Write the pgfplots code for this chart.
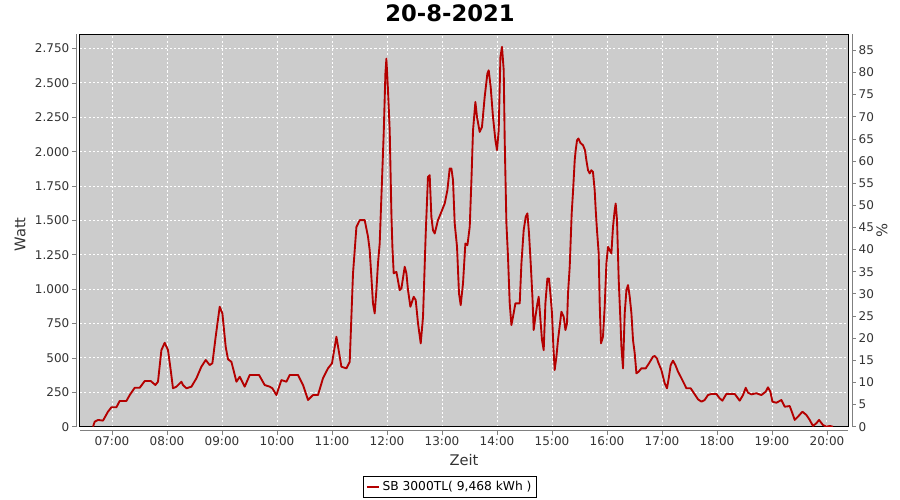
\documentclass[border=0pt]{standalone}
\usepackage{fontspec}
\setmainfont{DejaVu Sans}
\usepackage{pgfplots}
\pgfplotsset{compat=1.18}
\definecolor{plotbg}{RGB}{204,204,204}
\definecolor{axgray}{RGB}{128,128,128}
\definecolor{linered}{RGB}{180,0,0}
\pgfplotsset{
  base/.style={
    scale only axis, width=576pt, height=294.3pt,
    xmin=6.418, xmax=20.382,
    /pgf/number format/assume math mode=true,
    tick label style={font=\fontsize{9}{10}\selectfont, text=black!80},
    major tick length=0pt,
  }
}
\begin{document}
\begin{tikzpicture}
\path[use as bounding box] (-60pt,-55pt) rectangle (615pt,320pt);
\begin{axis}[base,
  ymin=0, ymax=2854,
  axis background/.style={fill=plotbg},
  axis line style={black, line width=0.75pt},
  ytick={0,250,...,2750},
  xtick={7,...,20},
  xticklabels={07:00,08:00,09:00,10:00,11:00,12:00,13:00,14:00,15:00,16:00,17:00,18:00,19:00,20:00},
  yticklabel style={xshift=-4.5pt},
  xticklabel style={yshift=-4pt},
  scaled y ticks=false,
  y tick label style={/pgf/number format/.cd, fixed, precision=0, 1000 sep={.}},
  grid=major,
  major grid style={white, line width=0.75pt, dash pattern=on 1.6pt off 1.6pt},
  ytick pos=left, xtick pos=bottom,
  xlabel={Zeit}, ylabel={Watt},
  label style={font=\fontsize{11}{12}\selectfont, text=black!80},
  xlabel style={at={(axis description cs:0.5,-0.084)}, anchor=center},
  ylabel style={at={(axis description cs:-0.078,0.49)}, anchor=center},
  title={\textbf{20-8-2021}},
  every axis title/.style={at={(0.4818,1.054)}, anchor=center, font=\fontsize{17}{18}\selectfont},
  legend style={at={(axis description cs:0.4818,-0.1527)}, anchor=center, draw=black, line width=0.6pt, fill=white, font=\fontsize{9.2}{10}\selectfont, inner sep=1.5pt, legend cell align=left},
  legend image code/.code={\draw[#1, line width=1.5pt] (0pt,0pt) -- (9pt,0pt);},
  after end axis/.code={
    \draw[axgray, line width=0.6pt] ([xshift=-3pt]rel axis cs:0,0) -- ([xshift=-3pt]rel axis cs:0,1);
    \foreach \v in {0,250,...,2750} {\draw[axgray, line width=0.6pt] ([xshift=-3pt]axis cs:6.418,\v) -- ++(-3pt,0);}
    \draw[axgray, line width=0.6pt] ([yshift=-3pt]rel axis cs:0,0) -- ([yshift=-3pt]rel axis cs:1,0);
    \foreach \h in {7,...,20} {\draw[axgray, line width=0.6pt] ([yshift=-3pt]axis cs:\h,0) -- ++(0,-3pt);}
  },
]
\addplot[linered, line width=1.4pt, line join=round] table {
6.655 0
6.685 36
6.745 49
6.836 44
6.927 109
6.989 141
7.080 141
7.140 187
7.262 187
7.322 230
7.413 283
7.504 283
7.595 332
7.704 332
7.789 303
7.836 327
7.898 557
7.958 610
8.018 557
8.067 412
8.109 279
8.171 291
8.262 327
8.291 303
8.353 279
8.444 291
8.535 352
8.625 436
8.704 485
8.776 448
8.825 461
8.885 654
8.958 872
9.007 824
9.067 581
9.109 490
9.171 472
9.262 327
9.322 363
9.413 291
9.504 376
9.673 376
9.776 303
9.867 291
9.916 279
9.989 230
10.080 339
10.171 327
10.231 376
10.382 376
10.473 303
10.564 194
10.655 230
10.745 230
10.836 352
10.927 424
11.000 461
11.080 654
11.171 436
11.262 424
11.322 472
11.382 1115
11.444 1453
11.504 1502
11.595 1502
11.655 1381
11.685 1284
11.716 1090
11.745 897
11.776 824
11.807 993
11.836 1187
11.867 1332
11.898 1671
11.940 2132
11.971 2568
11.989 2677
12.018 2447
12.049 2156
12.080 1551
12.098 1308
12.122 1115
12.171 1126
12.231 993
12.262 1005
12.322 1163
12.353 1115
12.382 993
12.425 872
12.485 945
12.522 921
12.564 751
12.613 606
12.655 799
12.704 1405
12.745 1817
12.776 1829
12.807 1526
12.836 1429
12.867 1405
12.927 1502
12.989 1562
13.049 1623
13.098 1720
13.140 1878
13.171 1878
13.200 1793
13.231 1478
13.273 1308
13.309 969
13.340 884
13.382 1042
13.425 1332
13.462 1320
13.504 1453
13.535 1793
13.564 2156
13.607 2362
13.636 2253
13.685 2144
13.727 2180
13.776 2398
13.825 2568
13.849 2592
13.885 2471
13.927 2253
13.971 2083
14.000 2011
14.031 2156
14.062 2689
14.091 2762
14.122 2592
14.140 2083
14.171 1478
14.200 1235
14.231 897
14.262 739
14.291 799
14.335 897
14.413 897
14.444 1187
14.485 1429
14.522 1526
14.553 1551
14.582 1405
14.613 1187
14.644 945
14.667 703
14.698 799
14.735 897
14.758 945
14.795 751
14.818 630
14.849 557
14.880 897
14.916 1078
14.945 1078
14.976 945
15.000 824
15.025 581
15.049 412
15.080 509
15.109 630
15.171 836
15.213 799
15.244 703
15.273 751
15.291 969
15.322 1163
15.340 1357
15.358 1551
15.382 1708
15.400 1842
15.413 1938
15.431 2011
15.455 2083
15.480 2096
15.516 2064
15.564 2047
15.600 2011
15.625 1938
15.655 1865
15.685 1842
15.716 1865
15.745 1853
15.776 1720
15.795 1575
15.818 1429
15.849 1260
15.867 897
15.891 606
15.927 654
15.958 872
15.989 1187
16.018 1308
16.049 1284
16.080 1260
16.109 1453
16.140 1575
16.158 1623
16.182 1502
16.213 1066
16.244 775
16.262 581
16.291 424
16.322 824
16.353 993
16.382 1030
16.413 945
16.444 824
16.473 630
16.504 533
16.535 388
16.576 400
16.625 424
16.704 424
16.764 461
16.836 509
16.867 514
16.909 497
16.927 472
16.989 412
17.049 315
17.091 279
17.122 352
17.158 448
17.200 480
17.244 448
17.291 400
17.340 363
17.400 315
17.444 279
17.522 279
17.582 243
17.655 199
17.716 182
17.776 194
17.836 230
17.898 238
17.989 238
18.049 206
18.098 189
18.171 238
18.322 238
18.413 189
18.473 230
18.522 283
18.564 247
18.625 235
18.716 243
18.807 230
18.885 254
18.927 286
18.971 254
19.007 182
19.080 174
19.171 194
19.231 145
19.322 150
19.371 97
19.413 49
19.473 73
19.553 109
19.625 85
19.685 49
19.745 5
19.807 25
19.855 49
19.927 12
19.989 0
20.049 5
20.109 0
};
\addlegendentry{SB 3000TL( 9,468 kWh )}
\end{axis}
\begin{axis}[base,
  ymin=0, ymax=88.65,
  axis x line=none,
  axis y line*=right,
  axis line style={draw=none},
  ytick={0,5,...,85},
  yticklabel style={xshift=4.5pt},
  ylabel={\%},
  label style={font=\fontsize{11}{12}\selectfont, text=black!80},
  ylabel style={at={(axis description cs:1.0443,0.5)}, anchor=center, rotate=180},
  after end axis/.code={
    \draw[axgray, line width=0.6pt] ([xshift=3pt]rel axis cs:1,0) -- ([xshift=3pt]rel axis cs:1,1);
    \foreach \v in {0,5,...,85} {\draw[axgray, line width=0.6pt] ([xshift=3pt]axis cs:20.382,\v) -- ++(3pt,0);}
  },
]
\end{axis}
\end{tikzpicture}
\end{document}
